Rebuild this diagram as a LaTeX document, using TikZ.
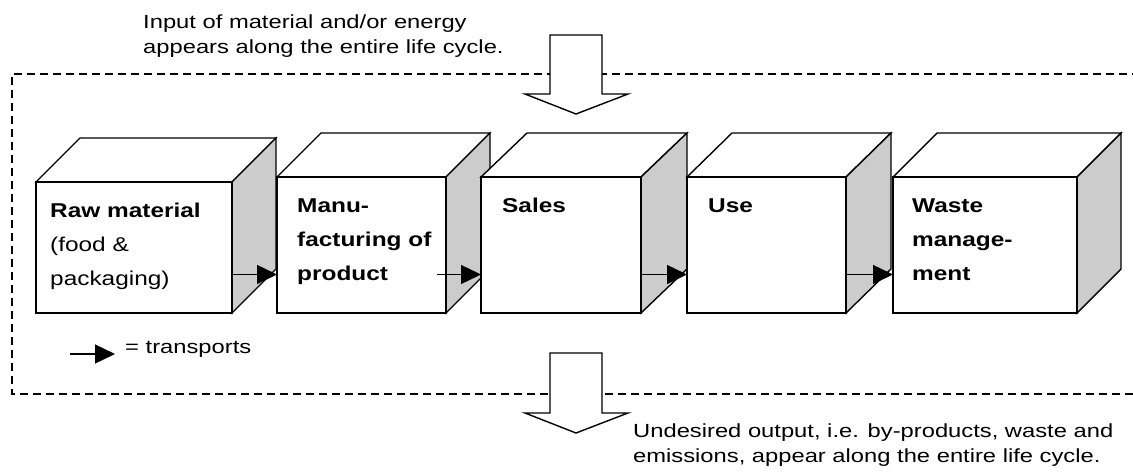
\documentclass[tikz,border=0pt]{standalone}
\usepackage{fontspec}
\setmainfont{Liberation Sans}
\usepackage{graphicx}
\usetikzlibrary{arrows.meta,calc}

% wide-set multi-line text block; baseline is that of the first line
\newcommand\widetext[2][1.25]{\scalebox{#1}[1]{\begin{tabular}[t]{@{}l@{}}#2\end{tabular}}}

\tikzset{
  outline/.style={line width=1.4pt, line join=miter},
  face/.style={outline, draw, fill=white, rectangle, inner sep=0pt, outer sep=0pt, anchor=north west},
  sideface/.style={outline, draw, fill=gray!40},
  topface/.style={outline, draw, fill=white},
  transport/.style={line width=1.4pt, -{Triangle[length=20pt,width=19pt]}},
  frame/.style={line width=1.4pt, dash pattern=on 8pt off 5pt},
  blockarrow/.style={line width=1.4pt, draw, fill=white, line join=miter},
  note/.style={inner sep=0pt, anchor=base west, font=\fontsize{19}{25}\selectfont},
  stage/.style={inner sep=0pt, anchor=base west, font=\fontsize{20}{34}\selectfont},
}

% life-cycle stage drawn as a box: #1 name, #2 left, #3 right, #4 top of front face,
% #5 depth in x, #6 depth in y; the front face ends at y = 313
\newcommand\stagecube[6]{%
  \draw[topface] (#2,#4) -- (#2+#5,#4-#6) -- (#3+#5,#4-#6) -- (#3,#4) -- cycle;
  \draw[sideface] (#3,#4) -- (#3+#5,#4-#6) -- (#3+#5,313-#6) -- (#3,313) -- cycle;
  \node[face, minimum width=#3pt-#2pt, minimum height=313pt-#4pt] (#1) at (#2,#4) {};
}

\begin{document}
\begin{tikzpicture}[x=1pt,y=-1pt]
\useasboundingbox (0,0) rectangle (1133,474);

% system boundary
\draw[frame] (1140,74) -- (12,74) -- (12,394) -- (1140,394);

% stages
\stagecube{raw}{36}{232}{182}{44}{44}
\stagecube{manu}{277}{446}{177}{44}{44}
\stagecube{sales}{481}{641}{177}{46}{44}
\stagecube{use}{687}{846}{177}{45}{44}
\stagecube{waste}{893}{1077}{177}{44}{44}

% transports between stages
\coordinate (lane) at (0,274.5);
\draw[transport] (raw.east |- lane) -- (manu.west |- lane);
\draw[transport] ([xshift=-9pt]manu.east |- lane) -- (sales.west |- lane);
\draw[transport] (sales.east |- lane) -- (use.west |- lane);
\draw[transport] (use.east |- lane) -- (waste.west |- lane);

% legend
\coordinate (legA) at (70,354);
\coordinate (legB) at (115,354);
\draw[transport] (legA) -- (legB);
\node[note] (legendtxt) at (125,353) {\widetext{= transports}};

% input and output flows
\draw[blockarrow] (550,35) -- (602,35) -- (602,94) -- (628,94) -- (576,114) -- (525,94) -- (550,94) -- cycle;
\draw[blockarrow] (550,353) -- (602,353) -- (602,413) -- (628,413) -- (576,433) -- (525,413) -- (550,413) -- cycle;

% labels
\node[stage] (rawtxt) at (50,217) {\widetext[1.22]{\textbf{Raw material}\\(food \&\\packaging)}};
\node[stage] (manutxt) at (297,212) {\widetext[1.22]{\textbf{Manu-}\\\textbf{facturing of}\\\textbf{product}}};
\node[stage] (salestxt) at (502,212) {\widetext[1.22]{\textbf{Sales}}};
\node[stage] (usetxt) at (708,212) {\widetext[1.22]{\textbf{Use}}};
\node[stage] (wastetxt) at (912,212) {\widetext[1.22]{\textbf{Waste}\\\textbf{manage-}\\\textbf{ment}}};

\node[note] (input) at (143,28.3) {\widetext{Input of material and/or energy\\appears along the entire life cycle.}};
\node[note] (output) at (633,437.5) {\widetext{Undesired output, i.e. by-products, waste and\\emissions, appear along the entire life cycle.}};
\end{tikzpicture}
\end{document}
